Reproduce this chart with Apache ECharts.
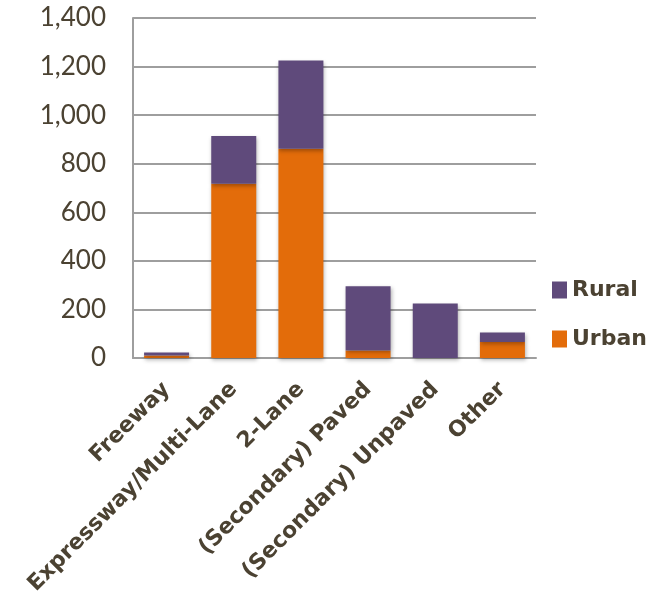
<!DOCTYPE html>
<html>
<head>
<meta charset="utf-8">
<script src="https://cdn.jsdelivr.net/npm/echarts@6/dist/echarts.min.js"></script>
<style>
    html, body { margin: 0; padding: 0; background: #fff; }
    #chart { width: 657px; height: 605px; }
</style>
</head>
<body>
<div id="chart"></div>
<script>
// road types
const categories = ['Freeway', 'Expressway/Multi-Lane', '2-Lane', '(Secondary) Paved', '(Secondary) Unpaved', 'Other']
const urban = [10, 718, 862, 31, 0, 66]
const rural = [13, 196, 363, 264, 224, 39]
const yTicks = [0, 200, 400, 600, 800, 1000, 1200, 1400]

const textColor = '#4b4232'
const gridColor = '#9e9e9e'

let myChart = echarts.init(document.getElementById('chart'))

let barShadow = {
    shadowColor: 'rgba(0,0,0,0.3)',
    shadowBlur: 4,
    shadowOffsetX: 1,
    shadowOffsetY: 2
}

let option = {
    animation: false,
    grid: {
        left: 133,
        right: 121,
        top: 18,
        bottom: 247
    },
    legend: {
        orient: 'vertical',
        left: 547,
        top: 274,
        itemWidth: 15,
        itemHeight: 17,
        itemGap: 27,
        icon: 'rect',
        data: ['Rural', 'Urban'],
        textStyle: {
            fontFamily: 'DejaVu Sans',
            fontWeight: 'bold',
            fontSize: 22,
            color: textColor
        }
    },
    xAxis: {
        type: 'category',
        data: categories,
        axisLine: { lineStyle: { color: gridColor, width: 2 } },
        axisTick: { show: false },
        axisLabel: {
            interval: 0,
            rotate: 45,
            margin: 28,
            fontFamily: 'DejaVu Sans',
            fontWeight: 'bold',
            fontSize: 22,
            color: textColor
        }
    },
    yAxis: {
        type: 'value',
        min: yTicks[0],
        max: yTicks[yTicks.length - 1],
        interval: 200,
        axisLine: { show: true, lineStyle: { color: gridColor, width: 2 } },
        axisTick: { show: false },
        splitLine: { lineStyle: { color: gridColor, width: 2 } },
        axisLabel: {
            margin: 27,
            fontFamily: 'Lato',
            fontSize: 26,
            color: textColor,
            formatter: v => v.toLocaleString('en-US')
        }
    },
    series: [
        {
            name: 'Urban',
            type: 'bar',
            stack: 'total',
            barWidth: '67%',
            data: urban,
            itemStyle: Object.assign({ color: '#e36c0a' }, barShadow)
        },
        {
            name: 'Rural',
            type: 'bar',
            stack: 'total',
            barWidth: '67%',
            data: rural,
            itemStyle: Object.assign({ color: '#5f4a7b' }, barShadow)
        }
    ]
}

myChart.setOption(option)
</script>
</body>
</html>
